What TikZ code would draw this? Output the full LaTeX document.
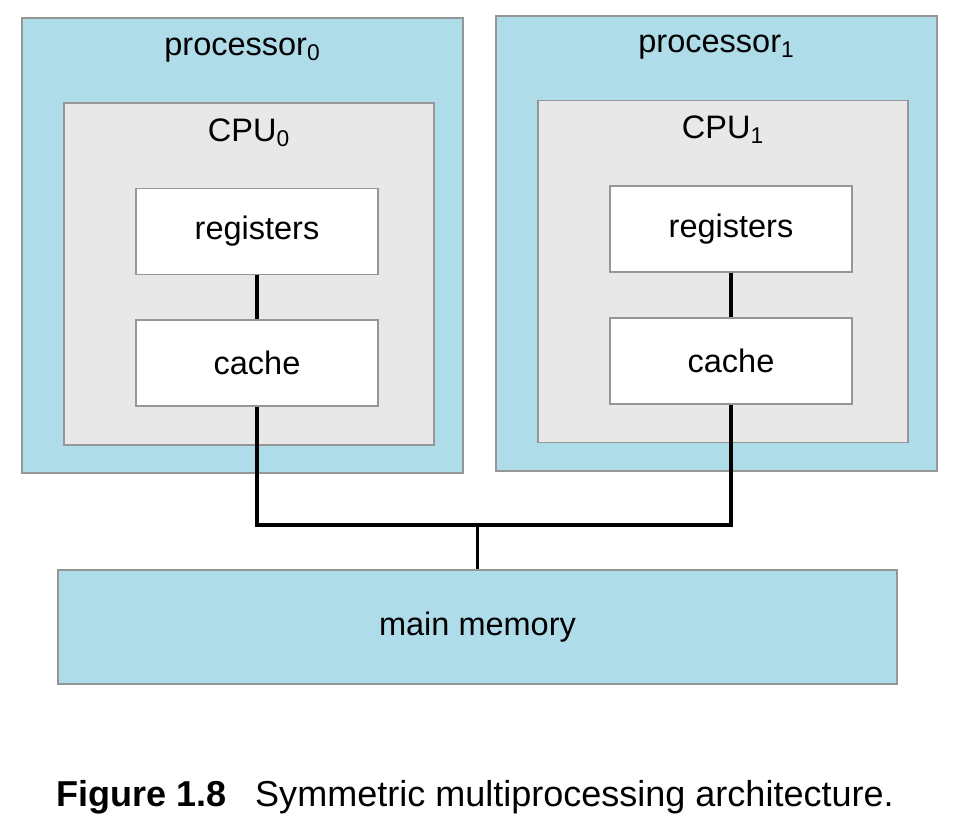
\documentclass[tikz,border=0pt]{standalone}
\usepackage{fontspec}
\setmainfont{Liberation Sans}
\usetikzlibrary{positioning}
\definecolor{procblue}{RGB}{174,220,232}
\definecolor{cpugray}{RGB}{232,232,232}
\definecolor{edgegray}{RGB}{150,150,150}
\tikzstyle{processor} = [rectangle, draw=edgegray, line width=1pt, fill=procblue, minimum width=8.82cm, minimum height=9.1cm]
\tikzstyle{cpu} = [rectangle, draw=edgegray, line width=1pt, fill=cpugray, minimum width=7.4cm, minimum height=6.84cm]
\tikzstyle{unit} = [rectangle, draw=edgegray, line width=1pt, fill=white, minimum width=4.84cm, minimum height=1.72cm, font=\fontsize{18.5}{20}\selectfont]
\tikzstyle{label} = [font=\fontsize{18.5}{20}\selectfont]
\tikzstyle{bus} = [line width=2pt]

\begin{document}
\begin{tikzpicture}[x=0.02cm, y=-0.02cm]
\useasboundingbox (0,0) rectangle (964,820);
\node (proc0) [processor] at (242.5,245.5) {};
\node (proc1) [processor] at (716.5,243.5) {};
\node (cpu0) [cpu] at (249,274) {};
\node (cpu1) [cpu] at (723,271.5) {};
\node (plab0) [label] at (242.5,50) {processor\textsubscript{0}};
\node (plab1) [label] at (716.5,47) {processor\textsubscript{1}};
\node (clab0) [label] at (249,133) {CPU\textsubscript{0}};
\node (clab1) [label] at (723,130) {CPU\textsubscript{1}};
\node (reg0) [unit] at (257,231.5) {registers};
\node (cache0) [unit] at (257,363) {cache};
\node (reg1) [unit] at (731,229) {registers};
\node (cache1) [unit] at (731,361) {cache};
\node (mem) [rectangle, draw=edgegray, line width=1pt, fill=procblue, minimum width=16.78cm, minimum height=2.28cm, font=\fontsize{18.5}{20}\selectfont] at (477.5,627) {main memory};
\coordinate (busmid) at (477.5,525);
\draw[bus] (reg0) -- (cache0);
\draw[bus] (reg1) -- (cache1);
\draw[bus] (cache0.south) |- (busmid) -| (cache1.south);
\draw[bus] (busmid) -- (busmid |- mem.north);
\node (caption) [font=\fontsize{20.5}{22}\selectfont] at (475,797) {\textbf{Figure 1.8}\hspace{0.8em}Symmetric multiprocessing architecture.};
\end{tikzpicture}
\end{document}
